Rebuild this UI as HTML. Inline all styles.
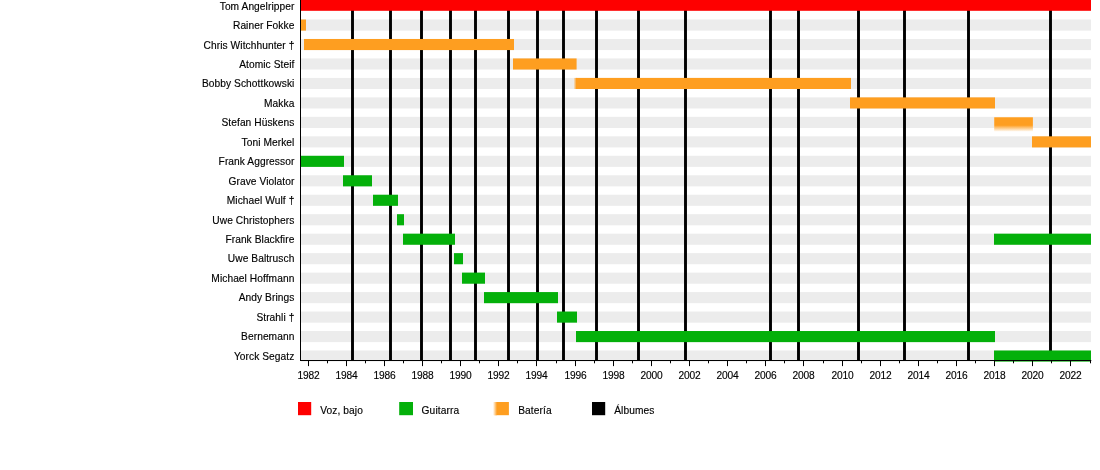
<!DOCTYPE html>
<html><head><meta charset="utf-8"><title>Timeline</title>
<style>html,body{margin:0;padding:0;background:#fff}svg{display:block}text{font-family:"Liberation Sans",sans-serif;font-size:10.2px;fill:#000;stroke:#000;stroke-width:0.15px}</style></head>
<body>
<svg width="1100" height="470" viewBox="0 0 1100 470">
<defs><linearGradient id="fv" x1="0" y1="0" x2="0" y2="1"><stop offset="0" stop-color="#fe9e20"/><stop offset="0.55" stop-color="#fe9e20"/><stop offset="1" stop-color="#fe9e20" stop-opacity="0"/></linearGradient><linearGradient id="fh" x1="0" y1="0" x2="1" y2="0"><stop offset="0" stop-color="#fe9e20" stop-opacity="0"/><stop offset="1" stop-color="#fe9e20"/></linearGradient></defs>
<rect x="0" y="0" width="1100" height="470" fill="#fff"/>
<rect x="301.0" y="19.50" width="790.0" height="11.10" fill="#ececec"/>
<rect x="301.0" y="38.97" width="790.0" height="11.10" fill="#ececec"/>
<rect x="301.0" y="58.44" width="790.0" height="11.10" fill="#ececec"/>
<rect x="301.0" y="77.91" width="790.0" height="11.10" fill="#ececec"/>
<rect x="301.0" y="97.38" width="790.0" height="11.10" fill="#ececec"/>
<rect x="301.0" y="116.85" width="790.0" height="11.10" fill="#ececec"/>
<rect x="301.0" y="136.32" width="790.0" height="11.10" fill="#ececec"/>
<rect x="301.0" y="155.79" width="790.0" height="11.10" fill="#ececec"/>
<rect x="301.0" y="175.26" width="790.0" height="11.10" fill="#ececec"/>
<rect x="301.0" y="194.73" width="790.0" height="11.10" fill="#ececec"/>
<rect x="301.0" y="214.20" width="790.0" height="11.10" fill="#ececec"/>
<rect x="301.0" y="233.67" width="790.0" height="11.10" fill="#ececec"/>
<rect x="301.0" y="253.14" width="790.0" height="11.10" fill="#ececec"/>
<rect x="301.0" y="272.61" width="790.0" height="11.10" fill="#ececec"/>
<rect x="301.0" y="292.08" width="790.0" height="11.10" fill="#ececec"/>
<rect x="301.0" y="311.55" width="790.0" height="11.10" fill="#ececec"/>
<rect x="301.0" y="331.02" width="790.0" height="11.10" fill="#ececec"/>
<rect x="301.0" y="350.49" width="790.0" height="11.10" fill="#ececec"/>
<rect x="351.05" y="0" width="2.9" height="360.5" fill="#000"/>
<rect x="389.05" y="0" width="2.9" height="360.5" fill="#000"/>
<rect x="420.05" y="0" width="2.9" height="360.5" fill="#000"/>
<rect x="449.05" y="0" width="2.9" height="360.5" fill="#000"/>
<rect x="474.05" y="0" width="2.9" height="360.5" fill="#000"/>
<rect x="507.05" y="0" width="2.9" height="360.5" fill="#000"/>
<rect x="536.05" y="0" width="2.9" height="360.5" fill="#000"/>
<rect x="562.05" y="0" width="2.9" height="360.5" fill="#000"/>
<rect x="595.05" y="0" width="2.9" height="360.5" fill="#000"/>
<rect x="637.05" y="0" width="2.9" height="360.5" fill="#000"/>
<rect x="684.05" y="0" width="2.9" height="360.5" fill="#000"/>
<rect x="769.05" y="0" width="2.9" height="360.5" fill="#000"/>
<rect x="797.05" y="0" width="2.9" height="360.5" fill="#000"/>
<rect x="857.05" y="0" width="2.9" height="360.5" fill="#000"/>
<rect x="903.05" y="0" width="2.9" height="360.5" fill="#000"/>
<rect x="967.05" y="0" width="2.9" height="360.5" fill="#000"/>
<rect x="1049.05" y="0" width="2.9" height="360.5" fill="#000"/>
<rect x="301.0" y="-2.00" width="790.0" height="12.80" fill="#fe0000"/>
<rect x="301.0" y="19.50" width="5.0" height="11.10" fill="#fe9e20"/>
<rect x="304.0" y="38.97" width="210.0" height="11.10" fill="#fe9e20"/>
<rect x="513.0" y="58.44" width="63.6" height="11.10" fill="#fe9e20"/>
<rect x="576.0" y="77.91" width="275.0" height="11.10" fill="#fe9e20"/>
<rect x="850.0" y="97.38" width="145.0" height="11.10" fill="#fe9e20"/>
<rect x="1032.0" y="136.32" width="59.0" height="11.10" fill="#fe9e20"/>
<rect x="301.0" y="155.79" width="43.0" height="11.10" fill="#04b00a"/>
<rect x="343.0" y="175.26" width="29.0" height="11.10" fill="#04b00a"/>
<rect x="373.0" y="194.73" width="25.0" height="11.10" fill="#04b00a"/>
<rect x="397.0" y="214.20" width="7.0" height="11.10" fill="#04b00a"/>
<rect x="403.0" y="233.67" width="52.0" height="11.10" fill="#04b00a"/>
<rect x="994.0" y="233.67" width="97.0" height="11.10" fill="#04b00a"/>
<rect x="454.0" y="253.14" width="9.0" height="11.10" fill="#04b00a"/>
<rect x="462.0" y="272.61" width="23.0" height="11.10" fill="#04b00a"/>
<rect x="484.0" y="292.08" width="74.0" height="11.10" fill="#04b00a"/>
<rect x="557.0" y="311.55" width="20.0" height="11.10" fill="#04b00a"/>
<rect x="576.0" y="331.02" width="419.0" height="11.10" fill="#04b00a"/>
<rect x="994.0" y="350.49" width="97.0" height="11.10" fill="#04b00a"/>
<rect x="994.2" y="117.25" width="38.7" height="14.5" fill="#fff"/>
<rect x="994.2" y="117.25" width="38.7" height="14.5" fill="url(#fv)"/>
<rect x="573.5" y="77.91" width="3" height="11.10" fill="url(#fh)"/>
<rect x="300" y="0" width="1" height="361" fill="#000"/>
<rect x="300" y="360" width="791.3" height="1" fill="#000"/>
<rect x="308" y="360.5" width="1" height="5.6" fill="#000"/><rect x="327" y="360.5" width="1" height="2.8" fill="#000"/><rect x="346" y="360.5" width="1" height="5.6" fill="#000"/><rect x="365" y="360.5" width="1" height="2.8" fill="#000"/><rect x="384" y="360.5" width="1" height="5.6" fill="#000"/><rect x="403" y="360.5" width="1" height="2.8" fill="#000"/><rect x="422" y="360.5" width="1" height="5.6" fill="#000"/><rect x="441" y="360.5" width="1" height="2.8" fill="#000"/><rect x="460" y="360.5" width="1" height="5.6" fill="#000"/><rect x="479" y="360.5" width="1" height="2.8" fill="#000"/><rect x="498" y="360.5" width="1" height="5.6" fill="#000"/><rect x="517" y="360.5" width="1" height="2.8" fill="#000"/><rect x="536" y="360.5" width="1" height="5.6" fill="#000"/><rect x="556" y="360.5" width="1" height="2.8" fill="#000"/><rect x="575" y="360.5" width="1" height="5.6" fill="#000"/><rect x="594" y="360.5" width="1" height="2.8" fill="#000"/><rect x="613" y="360.5" width="1" height="5.6" fill="#000"/><rect x="632" y="360.5" width="1" height="2.8" fill="#000"/><rect x="651" y="360.5" width="1" height="5.6" fill="#000"/><rect x="670" y="360.5" width="1" height="2.8" fill="#000"/><rect x="689" y="360.5" width="1" height="5.6" fill="#000"/><rect x="708" y="360.5" width="1" height="2.8" fill="#000"/><rect x="727" y="360.5" width="1" height="5.6" fill="#000"/><rect x="746" y="360.5" width="1" height="2.8" fill="#000"/><rect x="765" y="360.5" width="1" height="5.6" fill="#000"/><rect x="784" y="360.5" width="1" height="2.8" fill="#000"/><rect x="803" y="360.5" width="1" height="5.6" fill="#000"/><rect x="823" y="360.5" width="1" height="2.8" fill="#000"/><rect x="842" y="360.5" width="1" height="5.6" fill="#000"/><rect x="861" y="360.5" width="1" height="2.8" fill="#000"/><rect x="880" y="360.5" width="1" height="5.6" fill="#000"/><rect x="899" y="360.5" width="1" height="2.8" fill="#000"/><rect x="918" y="360.5" width="1" height="5.6" fill="#000"/><rect x="937" y="360.5" width="1" height="2.8" fill="#000"/><rect x="956" y="360.5" width="1" height="5.6" fill="#000"/><rect x="975" y="360.5" width="1" height="2.8" fill="#000"/><rect x="994" y="360.5" width="1" height="5.6" fill="#000"/><rect x="1013" y="360.5" width="1" height="2.8" fill="#000"/><rect x="1032" y="360.5" width="1" height="5.6" fill="#000"/><rect x="1051" y="360.5" width="1" height="2.8" fill="#000"/><rect x="1070" y="360.5" width="1" height="5.6" fill="#000"/><rect x="1090" y="360.5" width="1" height="2.8" fill="#000"/>
<g style="filter:grayscale(1)">
<text x="308.50" y="379.0" text-anchor="middle" letter-spacing="-0.15">1982</text><text x="346.50" y="379.0" text-anchor="middle" letter-spacing="-0.15">1984</text><text x="384.50" y="379.0" text-anchor="middle" letter-spacing="-0.15">1986</text><text x="422.50" y="379.0" text-anchor="middle" letter-spacing="-0.15">1988</text><text x="460.50" y="379.0" text-anchor="middle" letter-spacing="-0.15">1990</text><text x="498.50" y="379.0" text-anchor="middle" letter-spacing="-0.15">1992</text><text x="536.50" y="379.0" text-anchor="middle" letter-spacing="-0.15">1994</text><text x="575.50" y="379.0" text-anchor="middle" letter-spacing="-0.15">1996</text><text x="613.50" y="379.0" text-anchor="middle" letter-spacing="-0.15">1998</text><text x="651.50" y="379.0" text-anchor="middle" letter-spacing="-0.15">2000</text><text x="689.50" y="379.0" text-anchor="middle" letter-spacing="-0.15">2002</text><text x="727.50" y="379.0" text-anchor="middle" letter-spacing="-0.15">2004</text><text x="765.50" y="379.0" text-anchor="middle" letter-spacing="-0.15">2006</text><text x="803.50" y="379.0" text-anchor="middle" letter-spacing="-0.15">2008</text><text x="842.50" y="379.0" text-anchor="middle" letter-spacing="-0.15">2010</text><text x="880.50" y="379.0" text-anchor="middle" letter-spacing="-0.15">2012</text><text x="918.50" y="379.0" text-anchor="middle" letter-spacing="-0.15">2014</text><text x="956.50" y="379.0" text-anchor="middle" letter-spacing="-0.15">2016</text><text x="994.50" y="379.0" text-anchor="middle" letter-spacing="-0.15">2018</text><text x="1032.50" y="379.0" text-anchor="middle" letter-spacing="-0.15">2020</text><text x="1070.50" y="379.0" text-anchor="middle" letter-spacing="-0.15">2022</text>
<text x="294.4" y="9.70" text-anchor="end" letter-spacing="0.07">Tom Angelripper</text>
<text x="294.4" y="29.17" text-anchor="end" letter-spacing="0.07">Rainer Fokke</text>
<text x="294.4" y="48.64" text-anchor="end" letter-spacing="0.07">Chris Witchhunter †</text>
<text x="294.4" y="68.11" text-anchor="end" letter-spacing="0.07">Atomic Steif</text>
<text x="294.4" y="86.78" text-anchor="end" letter-spacing="0.07">Bobby Schottkowski</text>
<text x="294.4" y="107.05" text-anchor="end" letter-spacing="0.07">Makka</text>
<text x="294.4" y="125.62" text-anchor="end" letter-spacing="0.07">Stefan Hüskens</text>
<text x="294.4" y="145.99" text-anchor="end" letter-spacing="0.07">Toni Merkel</text>
<text x="294.4" y="165.46" text-anchor="end" letter-spacing="0.07">Frank Aggressor</text>
<text x="294.4" y="184.93" text-anchor="end" letter-spacing="0.07">Grave Violator</text>
<text x="294.4" y="204.40" text-anchor="end" letter-spacing="0.07">Michael Wulf †</text>
<text x="294.4" y="223.87" text-anchor="end" letter-spacing="0.07">Uwe Christophers</text>
<text x="294.4" y="243.34" text-anchor="end" letter-spacing="0.07">Frank Blackfire</text>
<text x="294.4" y="262.11" text-anchor="end" letter-spacing="0.07">Uwe Baltrusch</text>
<text x="294.4" y="282.28" text-anchor="end" letter-spacing="0.07">Michael Hoffmann</text>
<text x="294.4" y="300.75" text-anchor="end" letter-spacing="0.07">Andy Brings</text>
<text x="294.4" y="320.92" text-anchor="end" letter-spacing="0.07">Strahli †</text>
<text x="294.4" y="339.69" text-anchor="end" letter-spacing="0.07">Bernemann</text>
<text x="294.4" y="359.86" text-anchor="end" letter-spacing="0.07">Yorck Segatz</text>
<text x="320.2" y="414.4" letter-spacing="0.1">Voz, bajo</text>
<text x="421.6" y="414.4" letter-spacing="0.1">Guitarra</text>
<text x="518.2" y="414.4" letter-spacing="0.1">Batería</text>
<text x="614.2" y="414.4" letter-spacing="0.1">Álbumes</text>
</g>
<rect x="298.0" y="402" width="13.2" height="13.2" fill="#fe0000"/>
<rect x="399.2" y="402" width="13.8" height="13.2" fill="#04b00a"/>
<rect x="494.5" y="402" width="14.4" height="13.2" fill="#fe9e20"/>
<rect x="592.0" y="402" width="13.2" height="13.2" fill="#000"/>
<rect x="493" y="402" width="4" height="13.2" fill="#fff"/><rect x="493" y="402" width="4" height="13.2" fill="url(#fh)"/>
</svg>
</body></html>
